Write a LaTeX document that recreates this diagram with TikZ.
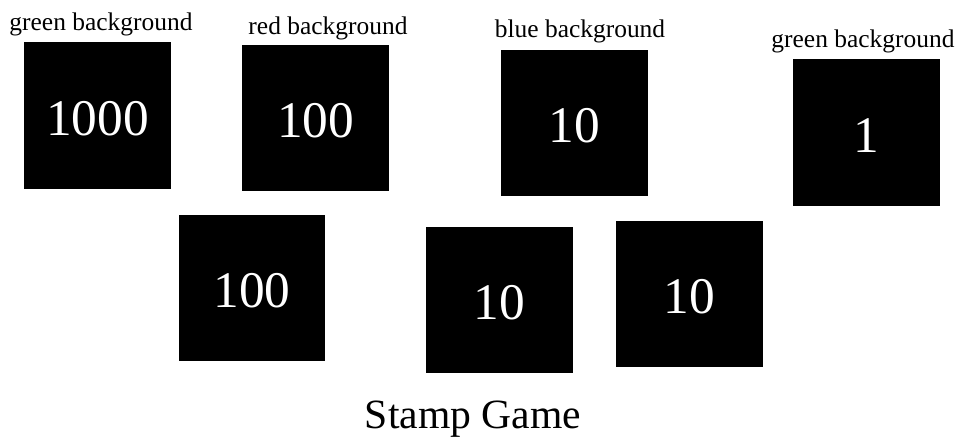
\documentclass[tikz,border=0pt]{standalone}
\usepackage{fontspec}
\setmainfont{Liberation Serif}
\usetikzlibrary{positioning}

\begin{document}
\begin{tikzpicture}[x=0.025cm,y=-0.025cm,
  stamp/.style={fill=black,text=white,inner sep=0pt,minimum width=3.65cm,minimum height=3.65cm,text height=28.4pt,text depth=0pt,font=\fontsize{36.5}{37}\selectfont},
  bglabel/.style={inner sep=0pt,anchor=base,font=\fontsize{18.1}{20}\selectfont}]
\useasboundingbox (0,0) rectangle (960,436);
% top row of stamps
\node[stamp] (thousand) at (97.5,115.5) {1000};
\node[stamp] (hundredA) at (315.5,118) {100};
\node[stamp] (tenA) at (574.5,123) {10};
\node[stamp] (unit) at (866.5,132.5) {1};
% bottom row
\node[stamp] (hundredB) at (252,288) {100};
\node[stamp] (tenB) at (499.5,300) {10};
\node[stamp] (tenC) at (689.5,294) {10};
% colour notes
\node[bglabel] (thousandbg) at (101,30) {green background};
\node[bglabel] (hundredbg) at (328,34) {red background};
\node[bglabel] (tenbg) at (580,37) {blue background};
\node[bglabel] (unitbg) at (863,47) {green background};
\node[inner sep=0pt,anchor=base,font=\fontsize{29.6}{32}\selectfont] (title) at (473,428) {Stamp Game};
\end{tikzpicture}
\end{document}
